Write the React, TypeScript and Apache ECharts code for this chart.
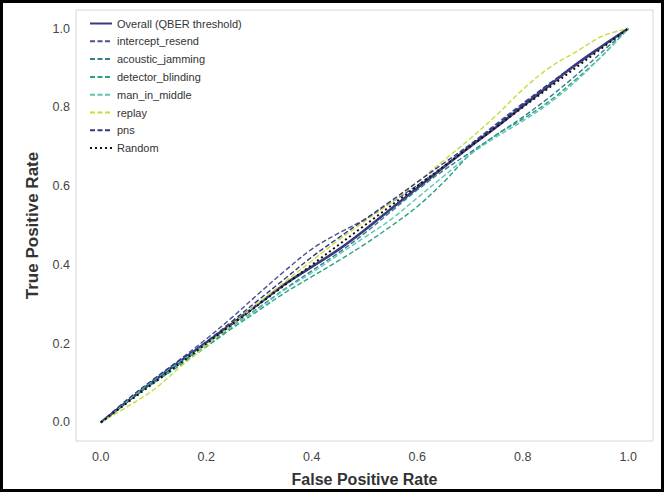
import React, { useEffect, useRef } from "react";
import * as echarts from "echarts";

const fpr = [0, 0.05, 0.1, 0.15, 0.2, 0.25, 0.3, 0.35, 0.4, 0.45, 0.5, 0.55, 0.6, 0.65, 0.7, 0.75, 0.8, 0.85, 0.9, 0.95, 1.0];

const overallTpr = [0, 0.053, 0.105, 0.155, 0.203, 0.252, 0.302, 0.352, 0.395, 0.438, 0.488, 0.542, 0.595, 0.648, 0.7, 0.75, 0.803, 0.855, 0.908, 0.955, 1.0];
const interceptResendTpr = [0, 0.055, 0.108, 0.16, 0.212, 0.268, 0.328, 0.386, 0.44, 0.48, 0.515, 0.558, 0.602, 0.65, 0.705, 0.758, 0.81, 0.858, 0.905, 0.953, 1.0];
const acousticJammingTpr = [0, 0.055, 0.103, 0.15, 0.195, 0.245, 0.292, 0.34, 0.385, 0.43, 0.48, 0.535, 0.59, 0.64, 0.685, 0.73, 0.775, 0.825, 0.88, 0.94, 1.0];
const detectorBlindingTpr = [0, 0.053, 0.1, 0.145, 0.192, 0.24, 0.285, 0.33, 0.37, 0.41, 0.452, 0.498, 0.548, 0.61, 0.68, 0.73, 0.77, 0.815, 0.87, 0.93, 1.0];
const manInMiddleTpr = [0, 0.055, 0.108, 0.155, 0.2, 0.245, 0.29, 0.338, 0.38, 0.425, 0.47, 0.515, 0.57, 0.625, 0.68, 0.725, 0.765, 0.81, 0.865, 0.93, 1.0];
const replayTpr = [0, 0.04, 0.083, 0.14, 0.195, 0.25, 0.305, 0.358, 0.41, 0.462, 0.51, 0.558, 0.61, 0.665, 0.72, 0.78, 0.845, 0.9, 0.94, 0.98, 1.0];
const pnsTpr = [0, 0.058, 0.11, 0.158, 0.205, 0.258, 0.312, 0.366, 0.42, 0.468, 0.515, 0.562, 0.61, 0.658, 0.705, 0.755, 0.808, 0.86, 0.908, 0.954, 1.0];
const randomX = [0, 1];
const randomY = [0, 1];

const tickValues = [0, 0.2, 0.4, 0.6, 0.8, 1.0];

const seriesNames = ["Overall (QBER threshold)", "intercept_resend", "acoustic_jamming", "detector_blinding", "man_in_middle", "replay", "pns", "Random"];

const FONT = "Liberation Sans";

function pairs(xs: number[], ys: number[]) {
  return xs.map((x, i) => [x, ys[i]]);
}

export default function App() {
  const ref = useRef<HTMLDivElement>(null);
  useEffect(() => {
    document.body.style.margin = "0";
    const chart = echarts.init(ref.current!, null, { renderer: "svg" });
    const dashed = (name: string, ys: number[], color: string) => ({
      name,
      type: "line",
      data: pairs(fpr, ys),
      symbol: "none",
      smooth: 0.35,
      lineStyle: { color, width: 1.4, type: [5, 2.5] },
      itemStyle: { color },
    });
    chart.setOption({
      animation: false,
      backgroundColor: "#ffffff",
      graphic: [
        {
          type: "rect",
          shape: { x: 1.5, y: 1.5, width: 661, height: 489 },
          style: { fill: "none", stroke: "#000", lineWidth: 3 },
          z: 100,
        },
      ],
      grid: {
        left: 76,
        right: 11,
        top: 10,
        bottom: 50,
        show: true,
        borderColor: "#d6d6d6",
        borderWidth: 1,
        backgroundColor: "#fff",
      },
      legend: {
        left: 84,
        top: 13,
        orient: "vertical",
        itemWidth: 22,
        itemHeight: 8,
        itemGap: 6.8,
        data: seriesNames,
        itemStyle: { opacity: 0 },
        textStyle: { fontFamily: FONT, fontSize: 11, color: "#333" },
      },
      xAxis: {
        type: "value",
        min: -0.047,
        max: 1.047,
        name: "False Positive Rate",
        nameLocation: "middle",
        nameGap: 30,
        nameTextStyle: { fontFamily: FONT, fontSize: 16, fontWeight: "bold", color: "#333" },
        axisLine: { show: false },
        axisTick: { show: false },
        splitLine: { show: false },
        axisLabel: {
          customValues: tickValues,
          formatter: (v: number) => v.toFixed(1),
          fontFamily: FONT,
          fontSize: 12.5,
          color: "#444",
          margin: 9,
        },
      },
      yAxis: {
        type: "value",
        min: -0.047,
        max: 1.047,
        name: "True Positive Rate",
        nameLocation: "middle",
        nameGap: 35,
        nameTextStyle: { fontFamily: FONT, fontSize: 17, fontWeight: "bold", color: "#333" },
        axisLine: { show: false },
        axisTick: { show: false },
        splitLine: { show: false },
        axisLabel: {
          customValues: tickValues,
          formatter: (v: number) => v.toFixed(1),
          fontFamily: FONT,
          fontSize: 12.5,
          color: "#444",
          margin: 6,
        },
      },
      series: [
        {
          name: seriesNames[0],
          type: "line",
          data: pairs(fpr, overallTpr),
          symbol: "none",
          smooth: 0.35,
          lineStyle: { color: "#3b3a7c", width: 2.6 },
          itemStyle: { color: "#3b3a7c" },
        },
        dashed(seriesNames[1], interceptResendTpr, "#4a5191"),
        dashed(seriesNames[2], acousticJammingTpr, "#2f7f8c"),
        dashed(seriesNames[3], detectorBlindingTpr, "#25a386"),
        dashed(seriesNames[4], manInMiddleTpr, "#5ec8b4"),
        dashed(seriesNames[5], replayTpr, "#c3df3c"),
        dashed(seriesNames[6], pnsTpr, "#33397f"),
        {
          name: seriesNames[7],
          type: "line",
          data: pairs(randomX, randomY),
          symbol: "none",
          lineStyle: { color: "#111", width: 2, type: [2, 3] },
          itemStyle: { color: "#111" },
        },
      ],
    });
    return () => chart.dispose();
  }, []);
  return <div ref={ref} style={{ width: 664, height: 492 }} />;
}
